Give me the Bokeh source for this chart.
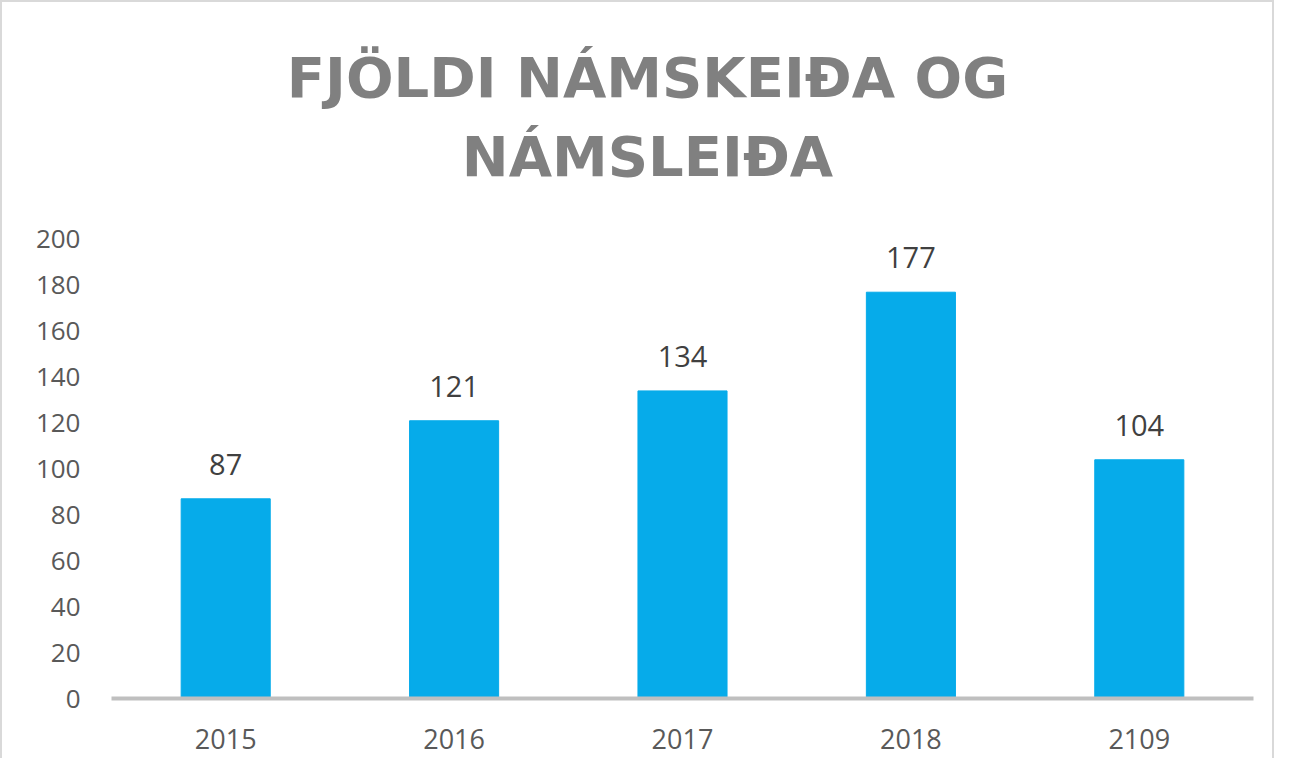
from bokeh.plotting import figure
from bokeh.models import ColumnDataSource, FixedTicker, Range1d, Label
from bokeh.core.properties import value
from bokeh.embed import file_html
from bokeh.resources import INLINE

years = ["2015", "2016", "2017", "2018", "2109"]
counts = [87, 121, 134, 177, 104]
y_ticks = [0, 20, 40, 60, 80, 100, 120, 140, 160, 180, 200]
title_lines = ["FJÖLDI NÁMSKEIÐA OG", "NÁMSLEIÐA"]

src = ColumnDataSource(dict(x=years, y=counts, lab=[str(c) for c in counts]))

# the frame reaches up into the title area; the axis shows 0-200 only
p = figure(x_range=years, y_range=Range1d(0, 294.5), width=1274, height=758,
           output_backend="svg", toolbar_location=None, title=None)
p.min_border_left = 109
p.min_border_right = 23
p.min_border_top = 20
p.min_border_bottom = 62
p.styles = {"border": "2px solid #d9d9d9", "border-bottom": "none"}

# Title, two centred lines
for txt, ty in zip(title_lines, [621, 542]):
    p.add_layout(Label(x=536, y=ty, x_units="screen", y_units="screen", text=txt,
                       text_font="DejaVu Sans", text_font_size="56px",
                       text_font_style="bold", text_color="#808080",
                       text_align="center", text_baseline="alphabetic"))

p.vbar(x="x", top="y", width=0.39, source=src, color="#06ABEA")
p.text(x="x", y="y", text="lab", source=src, text_align="center",
       text_baseline="bottom", y_offset=-24, text_font=value("Open Sans"),
       text_font_size="29px", text_color="#404040")

p.xgrid.visible = False
p.ygrid.visible = False
p.outline_line_color = None

p.yaxis.ticker = FixedTicker(ticks=y_ticks)
p.yaxis.axis_line_color = None
p.yaxis.major_tick_line_color = None
p.yaxis.minor_tick_line_color = None
p.yaxis.major_label_text_font = "Open Sans"
p.yaxis.major_label_text_font_size = "26px"
p.yaxis.major_label_text_color = "#595959"
p.yaxis.major_label_standoff = 25

p.xaxis.axis_line_color = "#BFBFBF"
p.xaxis.axis_line_width = 4
p.xaxis.major_tick_line_color = None
p.xaxis.minor_tick_line_color = None
p.xaxis.major_label_text_font = "Open Sans"
p.xaxis.major_label_text_font_size = "27px"
p.xaxis.major_label_text_color = "#595959"
p.xaxis.major_label_standoff = 24

open("out.html", "w").write(file_html(p, INLINE))
